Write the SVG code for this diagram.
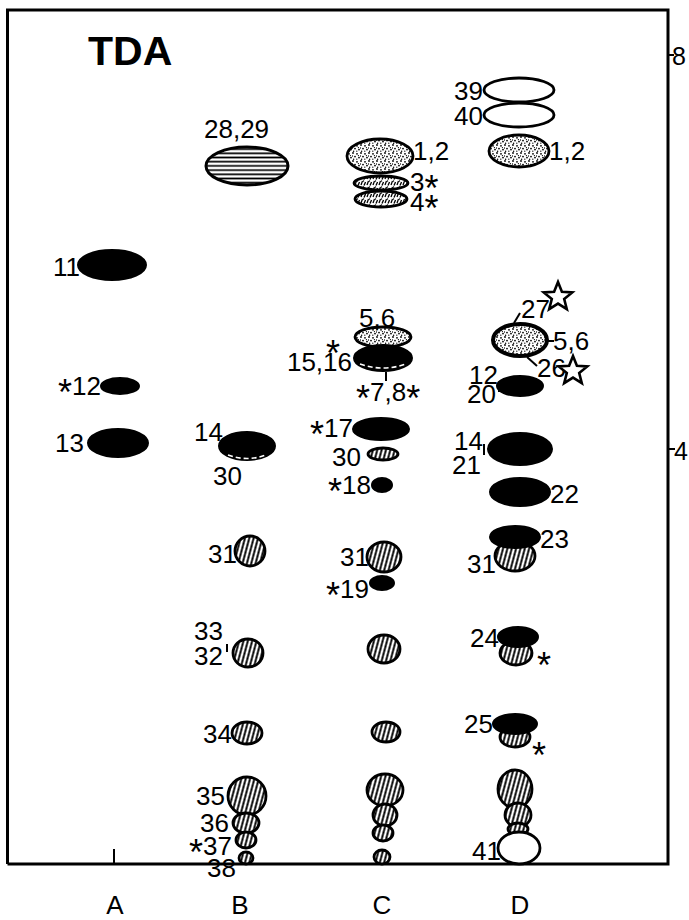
<svg xmlns="http://www.w3.org/2000/svg" width="689" height="920" viewBox="0 0 689 920">
<style>
.t{font-family:"Liberation Sans",Arial,Helvetica,sans-serif;font-size:26px;fill:#000}
.e{text-anchor:end}
.ax{font-size:26px;text-anchor:middle}
.as{font-size:36px}
.blk{fill:#000;stroke:#000;stroke-width:2}
.opn{fill:#fff;stroke:#000;stroke-width:2.8}
.hz{fill:url(#hl);stroke:#000;stroke-width:3}
.vh{fill:url(#vh);stroke:#000;stroke-width:2.8}
.sp{fill:url(#st);stroke:#000;stroke-width:2.8}
.mx{fill:url(#mx);stroke:#000;stroke-width:2.8}
.ld{stroke:#000;stroke-width:2;fill:none}
.frm{stroke:#000;stroke-width:3;fill:none}
.wd{stroke:#fff;stroke-width:1.6;fill:none;stroke-dasharray:5 3}
</style>
<defs>
<pattern id="hl" width="8" height="4.2" patternUnits="userSpaceOnUse"><rect width="8" height="4.2" fill="#fff"/><line x1="0" y1="2.1" x2="8" y2="2.1" stroke="#000" stroke-width="1.7"/></pattern>
<pattern id="vh" width="4.2" height="8" patternUnits="userSpaceOnUse" patternTransform="rotate(15)"><rect width="4.2" height="8" fill="#fff"/><line x1="2.1" y1="0" x2="2.1" y2="8" stroke="#000" stroke-width="1.9"/></pattern>
<pattern id="st" width="8" height="8" patternUnits="userSpaceOnUse"><rect width="8" height="8" fill="#fff"/><circle cx="1" cy="1" r=".9"/><circle cx="5" cy="1.8" r=".9"/><circle cx="3" cy="4.6" r=".9"/><circle cx="7" cy="5.6" r=".9"/><circle cx="1.6" cy="7.2" r=".75"/><circle cx="6.4" cy="3.6" r=".65"/><circle cx="4.8" cy="7.2" r=".65"/><circle cx="0.4" cy="4" r=".65"/></pattern>
<pattern id="mx" width="6" height="6" patternUnits="userSpaceOnUse"><rect width="6" height="6" fill="#fff"/><line x1="1" y1="5" x2="2.5" y2="1" stroke="#000" stroke-width="1.3"/><line x1="4" y1="5.5" x2="5.5" y2="2" stroke="#000" stroke-width="1.3"/><circle cx="3.5" cy="1" r=".7"/></pattern>
<polygon id="star" points="0,-15 3.9,-5.3 14.3,-4.6 6.2,2 8.8,12.1 0,6.6 -8.8,12.1 -6.2,2 -14.3,-4.6 -3.9,-5.3" fill="#fff" stroke="#000" stroke-width="2.6" stroke-linejoin="miter"/>
</defs>
<rect width="689" height="920" fill="#fff"/>

<g id="frame">
<path class="frm" d="M7.5,864 V10 H668 V864 H7.5"/>
<line class="ld" x1="668" y1="55" x2="674" y2="55"/>
<text class="t" x="672" y="65" style="font-size:25px">8</text>
<line class="ld" x1="668" y1="449" x2="675" y2="449"/>
<text class="t" x="674" y="460" style="font-size:25px">4</text>
<line class="ld" x1="114" y1="849" x2="114" y2="864"/>
<text class="t" x="88" y="65" style="font-size:41px;font-weight:bold">TDA</text>
</g>

<g id="lanes">
<text class="t ax" x="115" y="914">A</text>
<text class="t ax" x="240" y="914">B</text>
<text class="t ax" x="382" y="914">C</text>
<text class="t ax" x="520" y="914">D</text>
</g>

<g id="connectors">
<line class="ld" x1="514" y1="323" x2="520" y2="313"/>
<line class="ld" x1="547" y1="341" x2="554" y2="341"/>
<line class="ld" x1="527" y1="357" x2="537" y2="366"/>
<line class="ld" x1="499" y1="385" x2="499" y2="392"/>
<line class="ld" x1="484" y1="444" x2="484" y2="455"/>
<line class="ld" x1="227" y1="644" x2="227" y2="652"/>
<line class="ld" x1="386" y1="372" x2="386" y2="381"/>
</g>

<!-- Lane A -->
<g id="A11"><ellipse class="blk" cx="112" cy="265" rx="34" ry="15"/><text class="t e" x="80" y="276">11</text></g>
<g id="A12"><ellipse class="blk" cx="120" cy="386" rx="19" ry="8"/><text class="t e" x="101" y="395"><tspan class="as" dy="10">*</tspan><tspan dy="-10">12</tspan></text></g>
<g id="A13"><ellipse class="blk" cx="118" cy="443" rx="30" ry="14"/><text class="t e" x="84" y="452">13</text></g>

<!-- Lane B -->
<g id="B28"><ellipse class="hz" cx="247" cy="166" rx="41" ry="19"/><text class="t" x="204" y="138">28,29</text></g>
<g id="B14"><ellipse class="blk" cx="247" cy="446" rx="28" ry="14"/><path class="wd" d="M228,455 Q247,462 266,455"/><text class="t e" x="223" y="441">14</text><text class="t" x="213" y="485">30</text></g>
<g id="B31"><ellipse class="vh" cx="250" cy="551" rx="15" ry="15"/><text class="t e" x="237" y="563">31</text></g>
<g id="B32"><ellipse class="vh" cx="248" cy="653" rx="15" ry="14"/><text class="t e" x="223" y="640">33</text><text class="t e" x="223" y="665">32</text></g>
<g id="B34"><ellipse class="vh" cx="247" cy="733" rx="15" ry="11"/><text class="t e" x="232" y="743">34</text></g>
<g id="B35"><ellipse class="vh" cx="247" cy="796" rx="19" ry="19"/><text class="t e" x="225" y="805">35</text></g>
<g id="B36"><ellipse class="vh" cx="246" cy="823" rx="13" ry="10"/><text class="t e" x="229" y="832">36</text></g>
<g id="B37"><ellipse class="vh" cx="246" cy="840" rx="10" ry="8"/><text class="t e" x="232" y="855"><tspan class="as" dy="10">*</tspan><tspan dy="-10">37</tspan></text></g>
<g id="B38"><ellipse class="vh" cx="246" cy="858" rx="7" ry="6"/><text class="t e" x="236" y="877">38</text></g>

<!-- Lane C -->
<g id="C12"><ellipse class="sp" cx="380" cy="156" rx="33" ry="17"/><text class="t" x="413" y="160">1,2</text></g>
<g id="C3"><ellipse class="mx" cx="381" cy="183" rx="27" ry="7"/><text class="t" x="410" y="191">3<tspan class="as" dy="10">*</tspan></text></g>
<g id="C4"><ellipse class="mx" cx="381" cy="199" rx="26" ry="8"/><text class="t" x="410" y="211">4<tspan class="as" dy="10">*</tspan></text></g>
<g id="C56"><ellipse class="sp" cx="383" cy="337" rx="28" ry="10"/><text class="t" x="359" y="327">5,6</text></g>
<g id="C1516"><ellipse class="blk" cx="383" cy="358" rx="29" ry="13"/><path class="wd" d="M360,364 Q383,372 406,364"/><text class="t e" x="352" y="371">15,16</text><text class="t as" x="326" y="366">*</text></g>
<g id="C78"><text class="t" x="356" y="401"><tspan class="as" dy="10">*</tspan><tspan dy="-10">7,8</tspan><tspan class="as" dy="10">*</tspan></text></g>
<g id="C17"><ellipse class="blk" cx="381" cy="429" rx="28" ry="11"/><text class="t e" x="353" y="437"><tspan class="as" dy="10">*</tspan><tspan dy="-10">17</tspan></text></g>
<g id="C30"><ellipse class="vh" cx="383" cy="454" rx="15" ry="6"/><text class="t e" x="361" y="466">30</text></g>
<g id="C18"><ellipse class="blk" cx="382" cy="485" rx="10" ry="7"/><text class="t e" x="371" y="494"><tspan class="as" dy="10">*</tspan><tspan dy="-10">18</tspan></text></g>
<g id="C31"><ellipse class="vh" cx="384" cy="557" rx="17" ry="15"/><text class="t e" x="369" y="566">31</text></g>
<g id="C19"><ellipse class="blk" cx="382" cy="583" rx="12" ry="7"/><text class="t e" x="369" y="598"><tspan class="as" dy="10">*</tspan><tspan dy="-10">19</tspan></text></g>
<g id="C32"><ellipse class="vh" cx="384" cy="649" rx="16" ry="14"/></g>
<g id="C34"><ellipse class="vh" cx="386" cy="732" rx="14" ry="10"/></g>
<g id="C35"><ellipse class="vh" cx="385" cy="790" rx="18" ry="16"/></g>
<g id="C36"><ellipse class="vh" cx="385" cy="815" rx="12" ry="11"/></g>
<g id="C37"><ellipse class="vh" cx="383" cy="833" rx="10" ry="8"/></g>
<g id="C38"><ellipse class="vh" cx="382" cy="857" rx="8" ry="7"/></g>

<!-- Lane D -->
<g id="D39"><ellipse class="opn" cx="519" cy="90" rx="35" ry="12"/><text class="t e" x="483" y="100">39</text></g>
<g id="D40"><ellipse class="opn" cx="519" cy="115" rx="35" ry="12"/><text class="t e" x="483" y="125">40</text></g>
<g id="D12"><ellipse class="sp" cx="519" cy="151" rx="30" ry="16"/><text class="t" x="549" y="160">1,2</text></g>
<g id="D27"><text class="t" x="521" y="318">27</text><use href="#star" x="558" y="297"/></g>
<g id="D56"><ellipse class="sp" cx="520" cy="340" rx="27" ry="16" style="stroke-width:4"/><text class="t" x="553" y="350">5,6</text></g>
<g id="D26"><text class="t" x="537" y="377">26</text><use href="#star" x="573" y="371"/></g>
<g id="D1220"><ellipse class="blk" cx="520" cy="386" rx="23" ry="10"/><text class="t" x="469" y="384">12</text><text class="t" x="467" y="403">20</text></g>
<g id="D1421"><ellipse class="blk" cx="520" cy="449" rx="32" ry="16"/><text class="t" x="454" y="450">14</text><text class="t" x="452" y="474">21</text></g>
<g id="D22"><ellipse class="blk" cx="520" cy="492" rx="30" ry="14"/><text class="t" x="550" y="503">22</text></g>
<g id="D31"><ellipse class="vh" cx="515" cy="556" rx="20" ry="15"/><text class="t e" x="496" y="573">31</text></g>
<g id="D23"><ellipse class="blk" cx="515" cy="537" rx="25" ry="11"/><text class="t" x="540" y="548">23</text></g>
<g id="D24"><ellipse class="vh" cx="516" cy="653" rx="16" ry="12"/><ellipse class="blk" cx="518" cy="637" rx="20" ry="10"/><text class="t e" x="499" y="647">24</text><text class="t as" x="537" y="678">*</text></g>
<g id="D25"><ellipse class="vh" cx="515" cy="737" rx="15" ry="10"/><ellipse class="blk" cx="515" cy="724" rx="22" ry="10"/><text class="t e" x="493" y="733">25</text><text class="t as" x="532" y="768">*</text></g>
<g id="D35"><ellipse class="vh" cx="515" cy="789" rx="17" ry="19"/></g>
<g id="D36"><ellipse class="vh" cx="518" cy="815" rx="13" ry="12"/></g>
<g id="D37"><ellipse class="vh" cx="518" cy="829" rx="10" ry="6"/></g>
<g id="D41"><ellipse class="opn" cx="519" cy="848" rx="21" ry="16"/><text class="t e" x="501" y="860">41</text></g>
</svg>
